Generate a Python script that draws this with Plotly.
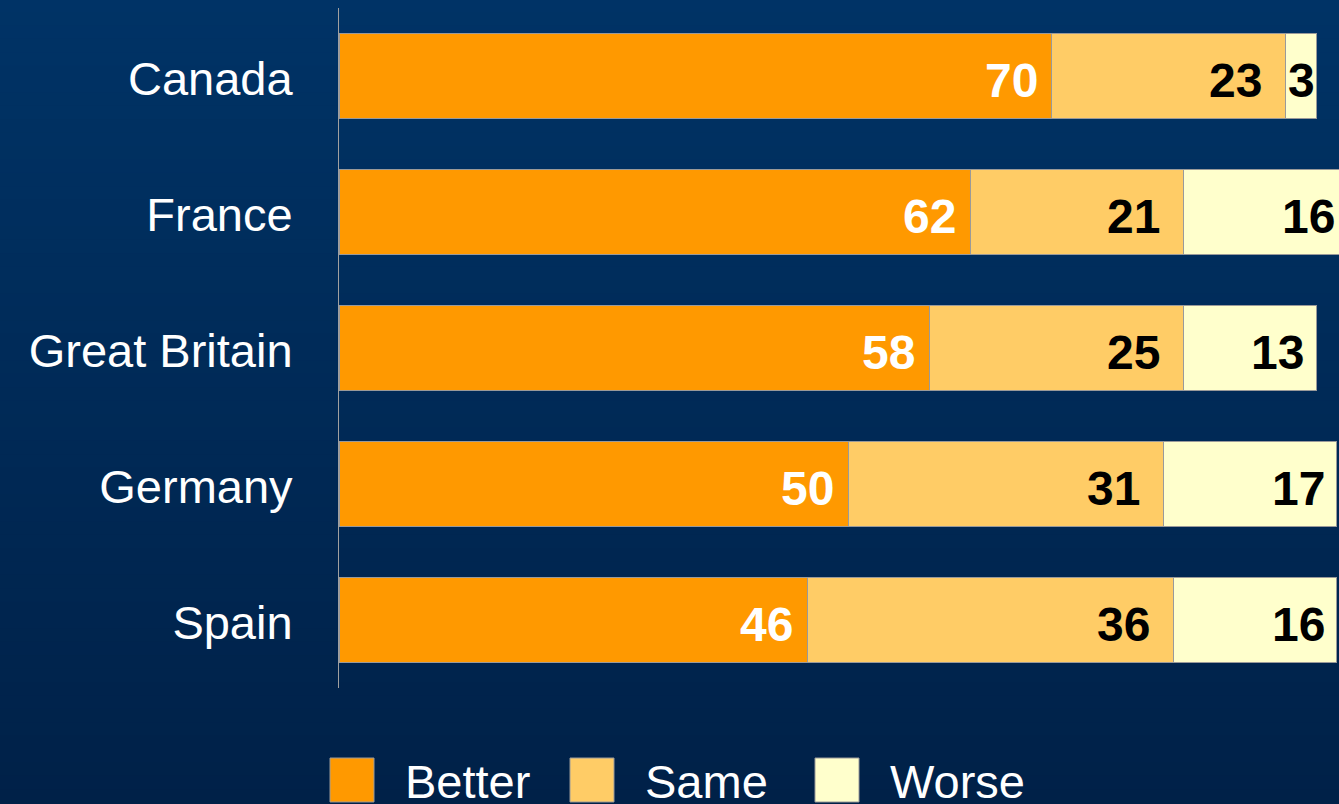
import plotly.graph_objects as go

# ---- data ----
categories = ["Canada", "France", "Great Britain", "Germany", "Spain"]
series_names = ["Better", "Same", "Worse"]
better = [70, 62, 58, 50, 46]
same = [23, 21, 25, 31, 36]
worse = [3, 16, 13, 17, 16]

# ---- style ----
colors = ["#FF9900", "#FFCC66", "#FFFFCC"]
label_colors = ["white", "black", "black"]
label_pad = [12, 22, 10]
outline = "#9A9A9A"
FONT = "Liberation Sans, Arial, sans-serif"
XMAX = 98.23
NARROW = 5  # segments narrower than this get a centred label

W, H = 1339, 804
ML, MR, MT, MB = 339, 0, 8, 116
PW, PH = W - ML - MR, H - MT - MB

fig = go.Figure()

values = [better, same, worse]
for name, vals, col in zip(series_names, values, colors):
    fig.add_trace(go.Bar(
        x=vals, y=categories, orientation="h", name=name,
        marker=dict(color=col, line=dict(color=outline, width=1)),
        showlegend=False, hoverinfo="x+y+name",
    ))

# value labels at inside end of each segment (x in paper units from the x scale)
annotations = []
cum = [0] * len(categories)
for vals, tc, pad in zip(values, label_colors, label_pad):
    for i, (cat, v) in enumerate(zip(categories, vals)):
        cum[i] += v
        if v < NARROW:
            ax, anchor, shift = (cum[i] - v / 2) / XMAX, "center", 0
        else:
            ax, anchor, shift = cum[i] / XMAX, "right", -pad
        annotations.append(dict(
            x=ax, y=cat, xref="paper", yref="y", text=str(v),
            showarrow=False, xanchor=anchor, yanchor="middle",
            xshift=shift, yshift=-4,
            font=dict(family=FONT, size=48, color=tc, weight="bold"),
        ))

# gradient background (styling only)
shapes = []
top = (0, 51, 102)
bot = (0, 33, 72)
N = 60
y0p = -MB / PH
y1p = 1 + MT / PH
for k in range(N):
    t = k / (N - 1)
    c = tuple(round(top[j] + (bot[j] - top[j]) * t) for j in range(3))
    ya = y1p - (y1p - y0p) * k / N
    yb = y1p - (y1p - y0p) * (k + 1) / N
    shapes.append(dict(
        type="rect", xref="paper", yref="paper",
        x0=-ML / PW, x1=1 + 0.01, y0=yb - 0.002, y1=ya + 0.002,
        fillcolor="rgb(%d,%d,%d)" % c, line=dict(width=0), layer="below",
    ))

# manual legend (large swatches)
leg_sq_x = [330, 570, 815]
leg_txt_x = [403, 643, 888]
sq_top, sq_bot = 758, 802
for name, col, sx, tx in zip(series_names, colors, leg_sq_x, leg_txt_x):
    shapes.append(dict(
        type="rect", xref="paper", yref="paper",
        x0=(sx - ML) / PW, x1=(sx + 44 - ML) / PW,
        y0=(MT + PH - sq_bot) / PH, y1=(MT + PH - sq_top) / PH,
        fillcolor=col, line=dict(color=outline, width=1), layer="above",
    ))
    annotations.append(dict(
        x=(tx - ML) / PW, y=(MT + PH - 781) / PH, xref="paper", yref="paper",
        text=name, showarrow=False, xanchor="left", yanchor="middle",
        font=dict(family=FONT, size=47, color="white"),
    ))

fig.update_layout(
    width=W, height=H,
    margin=dict(l=ML, r=MR, t=MT, b=MB, pad=0),
    barmode="stack", bargap=0.375,
    paper_bgcolor="rgb(0,42,88)", plot_bgcolor="rgba(0,0,0,0)",
    shapes=shapes, annotations=annotations,
    showlegend=False,
    xaxis=dict(range=[0, XMAX], visible=False, showgrid=False, zeroline=False,
               fixedrange=True),
    yaxis=dict(autorange="reversed", categoryorder="array", categoryarray=categories,
               showgrid=False, zeroline=False, showline=True, linecolor="#A0A0A0",
               linewidth=1, ticks="outside", ticklen=36, tickcolor="rgba(0,0,0,0)",
               ticklabelshift=-3,
               tickfont=dict(family=FONT, size=47, color="white"), fixedrange=True),
)

fig.write_html(
    "out.html",
    config={"displayModeBar": False},
    post_script="document.body.style.margin='0';document.body.style.overflow='hidden';"
                "document.body.style.background='rgb(0,33,72)';",
)
